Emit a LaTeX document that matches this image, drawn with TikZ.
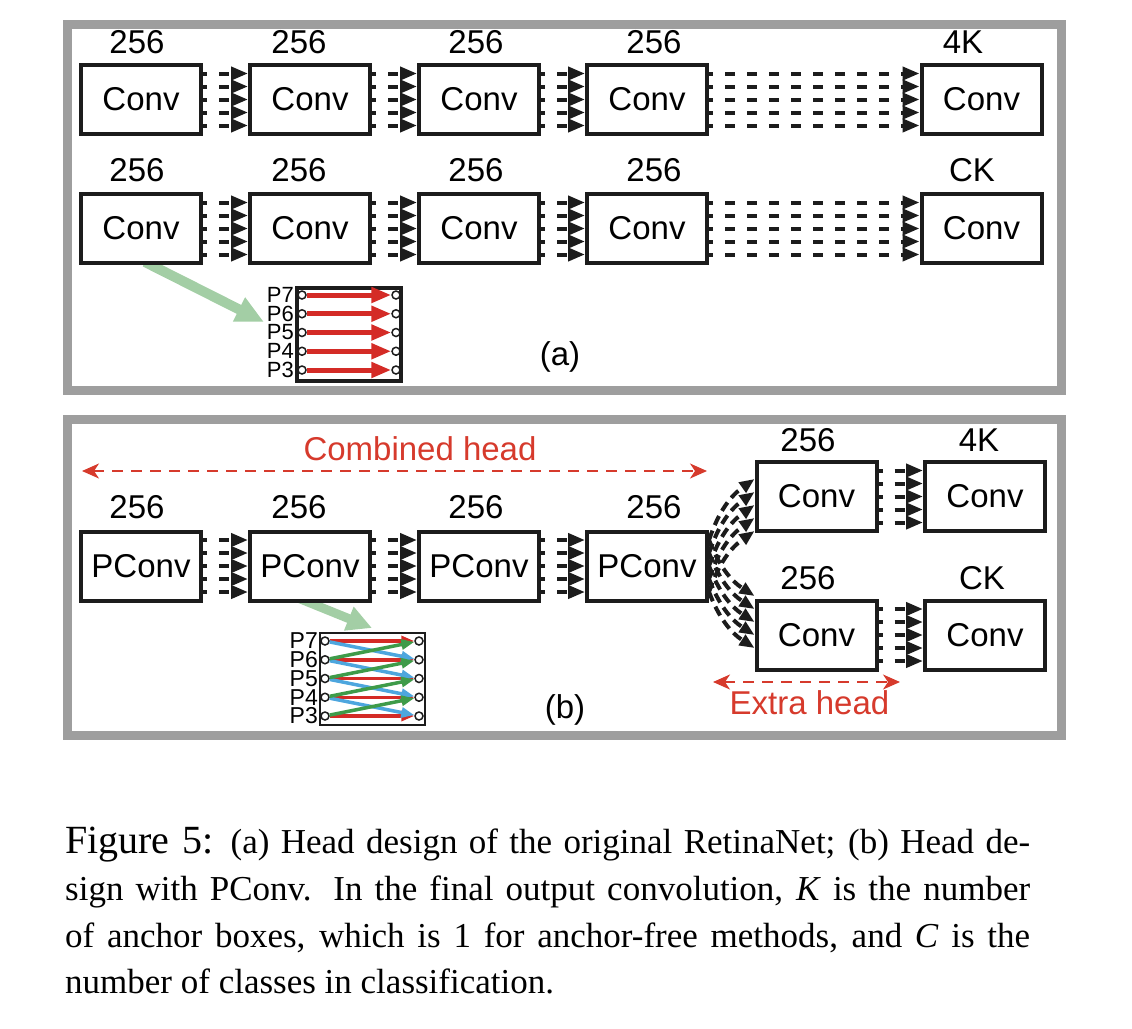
\documentclass[tikz,border=0pt]{standalone}
\usepackage{fontspec}
\setmainfont{Liberation Sans}
\newfontfamily\capfont{Liberation Serif}
\usetikzlibrary{arrows.meta}
\definecolor{framegray}{HTML}{9E9E9E}
\definecolor{ink}{HTML}{1C1C1C}
\definecolor{hred}{HTML}{D63A2C}
\definecolor{pred}{HTML}{D42B26}
\definecolor{pblue}{HTML}{4DA6DE}
\definecolor{pgreen}{HTML}{3E9B49}
\definecolor{lgreen}{HTML}{A3CEA5}
\begin{document}
\begin{tikzpicture}[x=1pt,y=-1pt,
  box/.style={draw=ink, fill=white, line width=4pt, minimum width=120pt, minimum height=69pt, inner sep=0pt, outer sep=2pt, font=\fontsize{33}{33}\selectfont},
  lbl/.style={inner sep=0pt, outer sep=0pt, font=\fontsize{33}{33}\selectfont},
  conn/.style={draw=ink, line width=4pt, dash pattern=on 10pt off 12pt, dash phase=6pt, -{Triangle[length=17pt,width=13pt]}},
  curv/.style={draw=ink, line width=4pt, dash pattern=on 10pt off 6pt, -{Triangle[length=15pt,width=12pt]}},
  frame/.style={draw=framegray, line width=9pt},
  hdash/.style={draw=hred, line width=2pt, dash pattern=on 11pt off 8pt, {Stealth[length=17pt,width=15pt,inset=5pt]}-{Stealth[length=17pt,width=15pt,inset=5pt]}},
  htext/.style={inner sep=0pt, text=hred, font=\fontsize{33}{33}\selectfont},
  garrow/.style={draw=lgreen, line width=10pt, -{Triangle[length=28pt,width=25pt]}},
  port/.style={circle, draw=ink, fill=white, line width=1.5pt, minimum size=8pt, inner sep=0pt},
  plbla/.style={inner sep=0pt, anchor=east, font=\fontsize{22}{22}\selectfont},
  plblb/.style={inner sep=0pt, anchor=east, font=\fontsize{23}{23}\selectfont},
  redbig/.style={draw=pred, line width=5pt, -{Triangle[length=20pt,width=15pt]}},
  psmall/.style={line width=3.5pt, -{Triangle[length=13pt,width=10pt]}},
  capline/.style={inner sep=0pt, anchor=base west, font=\capfont\fontsize{35}{35}\selectfont},
]
\useasboundingbox (0,0) rectangle (1132,1028);

% frames
\draw[frame] (67.5,24.5) rectangle (1061.5,390.5);
\draw[frame] (67.5,419) rectangle (1061.5,735.5);

\coordinate (ga) at (264,322);
\coordinate (gb) at (372,628);

% ---------------- panel (a) ----------------
\node[box] (a11) at (141,99.5) {Conv};
\node[box] (a12) at (310,99.5) {Conv};
\node[box] (a13) at (479,99.5) {Conv};
\node[box] (a14) at (647,99.5) {Conv};
\node[box] (a15) at (981.5,99.5) {Conv};
\node[box] (a22) at (310,228.5) {Conv};
\node[box] (a23) at (479,228.5) {Conv};
\node[box] (a24) at (647,228.5) {Conv};
\node[box] (a25) at (981.5,228.5) {Conv};

% green pointer (a), drawn below its box
\draw[garrow] (145,262) -- (ga);
\node[box] (a21) at (141,228.5) {Conv};

\node[lbl] (la11) at (137,42) {256};
\node[lbl] (la12) at (299,42) {256};
\node[lbl] (la13) at (476,42) {256};
\node[lbl] (la14) at (654,42) {256};
\node[lbl] (la15) at (963,42) {4K};
\node[lbl] (la21) at (137,170) {256};
\node[lbl] (la22) at (299,170) {256};
\node[lbl] (la23) at (476,170) {256};
\node[lbl] (la24) at (654,170) {256};
\node[lbl] (la25) at (972,170) {CK};

\foreach \r in {1,2}{
  \foreach \a/\b in {1/2,2/3,3/4,4/5}{
    \foreach \s in {26,13,0,-13,-26}{
      \draw[conn] ([yshift=\s pt]a\r\a.east) -- ([yshift=\s pt]a\r\b.west);
    }
  }
}

% small panel (a)
\node[draw=ink, line width=4pt, minimum width=104pt, minimum height=93pt, inner sep=0pt] (pa) at (349,334.5) {};
\foreach \k/\n in {0/7,1/6,2/5,3/4,4/3}{
  \pgfmathsetmacro\yy{295+18.75*\k}
  \node[port] (al\n) at (302,\yy) {};
  \node[port] (ar\n) at (396,\yy) {};
  \node[plbla] (alb\n) at (294,\yy) {P\n};
  \draw[redbig] (al\n) -- (ar\n);
}
\node[lbl] (tagA) at (560,357) {(a)};

% ---------------- panel (b) ----------------
\node[box] (b1) at (141,566) {PConv};
\node[box] (b3) at (479,566) {PConv};
\node[box] (b4) at (647,566) {PConv};
\node[box] (u1) at (816.5,496.5) {Conv};
\node[box] (u2) at (985,496.5) {Conv};
\node[box] (d1) at (816.5,635) {Conv};
\node[box] (d2) at (985,635) {Conv};

% green pointer (b), drawn below its box
\draw[garrow, line width=9pt, -{Triangle[length=25pt,width=24pt]}] (298,598) -- (gb);
\node[box] (b2) at (310,566) {PConv};

\node[lbl] (lb1) at (137,507) {256};
\node[lbl] (lb2) at (299,507) {256};
\node[lbl] (lb3) at (476,507) {256};
\node[lbl] (lb4) at (654,507) {256};
\node[lbl] (lu1) at (808,440) {256};
\node[lbl] (lu2) at (979,440) {4K};
\node[lbl] (ld1) at (808,578) {256};
\node[lbl] (ld2) at (982,578) {CK};

\foreach \a/\b in {b1/b2,b2/b3,b3/b4,u1/u2,d1/d2}{
  \foreach \s in {26,13,0,-13,-26}{
    \draw[conn] ([yshift=\s pt]\a.east) -- ([yshift=\s pt]\b.west);
  }
}

\foreach \i in {0,...,4}{
  \pgfmathsetmacro\s{26-13*\i}
  \pgfmathsetmacro\tu{17.5-13*\i}
  \pgfmathsetmacro\td{39-13*\i}
  \draw[curv] ([yshift=\s pt]b4.east) to[bend left=18] ([yshift=\tu pt]u1.west);
  \draw[curv] ([yshift=\s pt]b4.east) to[bend right=18] ([yshift=\td pt]d1.west);
}

% combined / extra head
\coordinate (ch1) at (82,471);
\coordinate (ch2) at (707,471);
\draw[hdash] (ch1) -- (ch2);
\node[htext] (cht) at (420,449) {Combined head};
\coordinate (eh1) at (713,682);
\coordinate (eh2) at (900,682);
\draw[hdash] (eh1) -- (eh2);
\node[htext] (eht) at (809.5,703) {Extra head};

% small panel (b)
\node[draw=ink, line width=2pt, minimum width=105pt, minimum height=92pt, inner sep=0pt] (pb) at (372.5,679) {};
\foreach \k/\n in {0/7,1/6,2/5,3/4,4/3}{
  \pgfmathsetmacro\yy{641+18.75*\k}
  \node[port] (bl\n) at (325,\yy) {};
  \node[port] (br\n) at (419,\yy) {};
  \node[plblb] (blb\n) at (318,\yy) {P\n};
}
\foreach \n in {7,6,5,4,3}{ \draw[psmall, draw=pred] (bl\n) -- (br\n); }
\foreach \a/\b in {7/6,6/5,5/4,4/3}{ \draw[psmall, draw=pblue] (bl\a) -- (br\b); }
\foreach \a/\b in {6/7,5/6,4/5,3/4}{ \draw[psmall, draw=pgreen] (bl\a) -- (br\b); }
\node[lbl] (tagB) at (565,710) {(b)};

% ---------------- caption ----------------
\node[capline] (cap1) at (65,853) {\makebox[965pt][s]{{\fontsize{40}{40}\selectfont Figure 5:} (a) Head design of the original RetinaNet; (b) Head de-}};
\node[capline] (cap2) at (65,900) {\makebox[965pt][s]{sign with PConv. In the final output convolution, \textit{K} is the number}};
\node[capline] (cap3) at (65,947) {\makebox[965pt][s]{of anchor boxes, which is 1 for anchor-free methods, and \textit{C} is the}};
\node[capline] (cap4) at (65,993) {number of classes in classification.};
\end{tikzpicture}
\end{document}
